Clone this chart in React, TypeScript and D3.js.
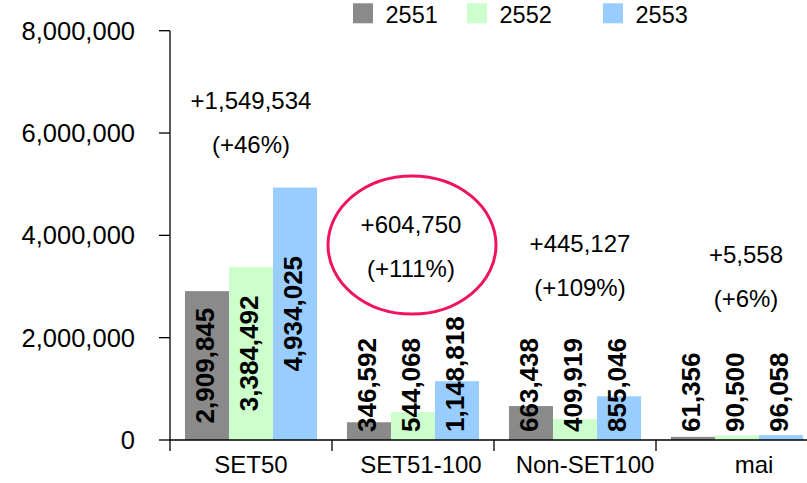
import React from "react";
import * as d3 from "d3";

const categories = ["SET50", "SET51-100", "Non-SET100", "mai"];
const seriesNames = ["2551", "2552", "2553"];
const values2551 = [2909845, 346592, 663438, 61356];
const values2552 = [3384492, 544068, 409919, 90500];
const values2553 = [4934025, 1148818, 855046, 96058];
const changeAbs = ["+1,549,534", "+604,750", "+445,127", "+5,558"];
const changePct = ["(+46%)", "(+111%)", "(+109%)", "(+6%)"];
const yTicks = [0, 2000000, 4000000, 6000000, 8000000];

const colors = ["#8a8a8a", "#ccffcc", "#99ccff"];
const FONT = "'Liberation Sans', Arial, Helvetica, sans-serif";

// layout constants
const W = 807;
const H = 483;
const X0 = 170;
const X1 = 818;
const Y0 = 440;
const Y1 = 30.7;
const catLabelDx = [0, 8, 10, 17];
const annDx = [0, -2, 5, 9];
const annY = [109, 233, 252, 263];
const LABEL_FS = 26;

function textLen(s: string, fs: number) {
  let w = 0;
  for (const c of s) w += c === "," ? 0.278 : 0.556;
  return w * fs;
}

export default function App() {
  const x = d3.scaleBand<string>().domain(categories).range([X0, X1]).paddingInner(0).paddingOuter(0);
  const xs = d3
    .scaleBand<string>()
    .domain(seriesNames)
    .range([0, x.bandwidth()])
    .paddingInner(0)
    .paddingOuter(0.34);
  const y = d3.scaleLinear().domain([0, 8000000]).range([Y0, Y1]);
  const series = [values2551, values2552, values2553];
  const fmt = d3.format(",");

  const tickXs = categories.map((c) => x(c)!).concat([X1]);

  return (
    <svg
      width={W}
      height={H}
      style={{ position: "absolute", left: 0, top: 0, background: "#fff" }}
      fontFamily={FONT}
    >
      <rect x={0} y={0} width={W} height={H} fill="#fff" />
      {/* bars */}
      {series.map((vals, si) =>
        vals.map((v, ci) => {
          const bx = x(categories[ci])! + xs(seriesNames[si])!;
          return (
            <rect
              key={`b${si}-${ci}`}
              x={bx}
              y={y(v)}
              width={xs.bandwidth()}
              height={Y0 - y(v)}
              fill={colors[si]}
            />
          );
        })
      )}
      {/* axes */}
      <line x1={X0} x2={X0} y1={Y1} y2={Y0} stroke="#000" strokeWidth={1.3} />
      <line x1={X0} x2={W} y1={Y0} y2={Y0} stroke="#000" strokeWidth={1.3} />
      {yTicks.map((t) => (
        <g key={`yt${t}`}>
          <line x1={X0 - 11} x2={X0} y1={y(t)} y2={y(t)} stroke="#000" strokeWidth={1.3} />
          <text
            x={135}
            y={y(t)}
            textAnchor="end"
            dominantBaseline="central"
            fontSize={25.5}
            fill="#000"
          >
            {fmt(t)}
          </text>
        </g>
      ))}
      {tickXs.map((tx, i) => (
        <line key={`xt${i}`} x1={tx} x2={tx} y1={Y0} y2={Y0 + 11} stroke="#000" strokeWidth={1.3} />
      ))}
      {categories.map((c, i) => (
        <text
          key={`cl${c}`}
          x={x(c)! + x.bandwidth() / 2 + catLabelDx[i]}
          y={473}
          textAnchor="middle"
          fontSize={24}
          fill="#000"
        >
          {c}
        </text>
      ))}
      {/* data labels */}
      {series.map((vals, si) =>
        vals.map((v, ci) => {
          const s = fmt(v);
          const len = textLen(s, LABEL_FS);
          const cx = x(categories[ci])! + xs(seriesNames[si])! + xs.bandwidth() / 2;
          const mid = (y(v) + Y0) / 2;
          const cy = Math.min(mid, 432 - len / 2);
          return (
            <text
              key={`dl${si}-${ci}`}
              transform={`translate(${cx + 7},${cy}) rotate(-90)`}
              textAnchor="middle"
              fontSize={LABEL_FS}
              fontWeight="bold"
              fill="#000"
            >
              {s}
            </text>
          );
        })
      )}
      {/* annotations */}
      {categories.map((c, i) => {
        const cx = x(c)! + x.bandwidth() / 2 + annDx[i];
        return (
          <g key={`an${c}`}>
            <text x={cx} y={annY[i]} textAnchor="middle" fontSize={24} fill="#000">
              {changeAbs[i]}
            </text>
            <text x={cx} y={annY[i] + 43.5} textAnchor="middle" fontSize={24} fill="#000">
              {changePct[i]}
            </text>
          </g>
        );
      })}
      {/* highlight ellipse */}
      <ellipse
        cx={x(categories[1])! + x.bandwidth() / 2 - 1}
        cy={245}
        rx={84}
        ry={69}
        fill="none"
        stroke="#f0145f"
        strokeWidth={3}
      />
      {/* legend */}
      {seriesNames.map((n, i) => {
        const lx = [353, 467, 603][i];
        return (
          <g key={`lg${n}`}>
            <rect x={lx} y={3.3} width={20} height={20} fill={colors[i]} />
            <text x={lx + 32.5} y={22.7} fontSize={23.5} fill="#000">
              {n}
            </text>
          </g>
        );
      })}
    </svg>
  );
}
